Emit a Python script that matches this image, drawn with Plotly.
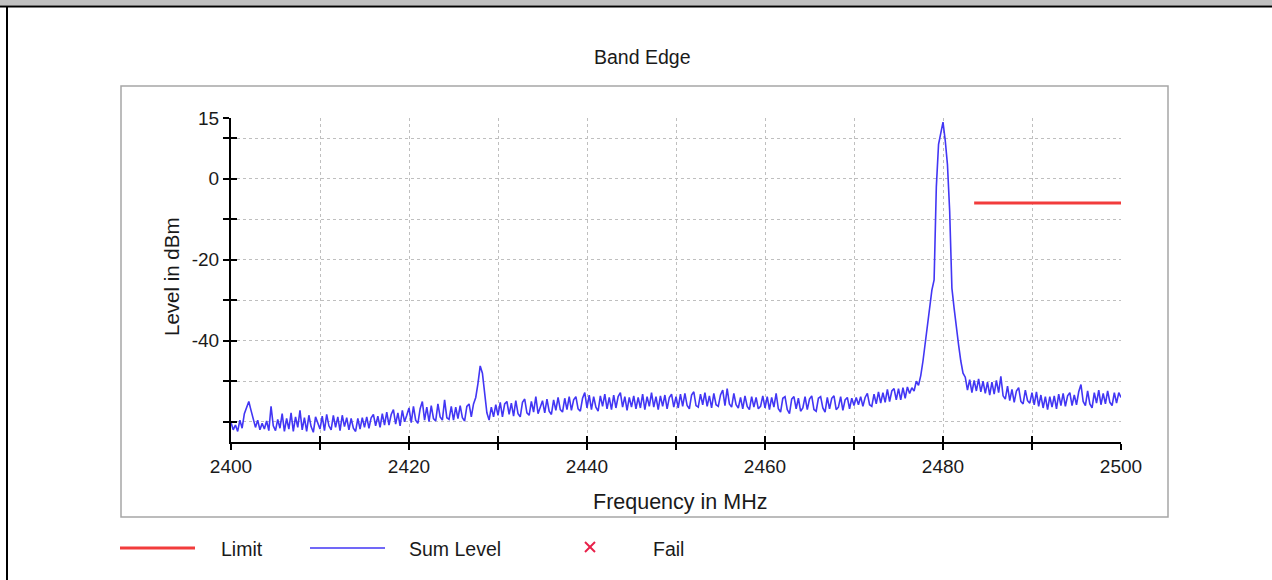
import numpy as np
import plotly.graph_objects as go

# ---------------- data ----------------
title_text = "Band Edge"
x_title = "Frequency in MHz"
y_title = "Level in dBm"

f_start = 2400.0   # MHz, first sweep point
f_step = 0.25      # MHz, sweep step

sum_level = [
    # 2400 - 2405
    -60.2, -62.0, -60.8, -62.4, -59.6, -61.6, -58.0, -56.2, -55.0, -57.2,
    -59.0, -61.4, -59.6, -62.0, -60.4, -61.8, -59.8, -62.2, -56.2, -61.0,
    # 2405 - 2410
    -62.2, -59.4, -61.6, -58.0, -62.4, -59.2, -61.8, -57.8, -62.4, -58.8,
    -61.4, -57.2, -62.0, -59.0, -62.4, -58.4, -61.2, -62.6, -58.8, -60.6,
    # 2410 - 2415
    -61.8, -58.6, -62.2, -58.2, -61.0, -62.0, -58.4, -61.4, -58.8, -62.2,
    -58.4, -61.2, -59.0, -62.0, -59.2, -61.6, -62.4, -59.2, -61.8, -59.0,
    # 2415 - 2420
    -61.4, -58.8, -61.6, -59.0, -58.2, -61.0, -58.6, -61.4, -58.0, -60.8,
    -57.6, -60.8, -58.2, -57.0, -60.6, -57.8, -61.0, -57.2, -60.0, -58.4,
    # 2420 - 2425
    -56.6, -60.2, -56.2, -59.6, -60.4, -56.8, -55.0, -59.6, -56.4, -60.0,
    -56.0, -59.2, -59.8, -55.6, -58.8, -59.6, -54.6, -59.0, -59.4, -56.2,
    # 2425 - 2430
    -59.6, -56.4, -59.2, -56.0, -59.0, -59.8, -56.2, -55.6, -58.8, -55.6,
    -54.0, -50.5, -46.2, -48.0, -52.4, -57.8, -59.6, -56.4, -58.8, -55.8,
    # 2430 - 2435
    -58.4, -55.2, -58.8, -55.6, -55.0, -58.2, -55.4, -58.6, -54.8, -58.0,
    -58.8, -55.2, -54.4, -57.8, -58.4, -55.0, -57.6, -53.8, -58.0, -56.2,
    # 2435 - 2440
    -54.8, -57.8, -54.4, -57.4, -58.2, -54.6, -57.2, -54.0, -57.0, -57.6,
    -54.2, -57.0, -53.8, -57.2, -54.6, -53.8, -56.8, -57.4, -54.2, -52.8,
    # 2440 - 2445
    -56.6, -53.4, -57.0, -53.8, -56.4, -57.4, -53.6, -56.2, -53.2, -56.8,
    -54.0, -57.0, -53.4, -56.6, -53.8, -52.8, -56.4, -53.8, -57.2, -54.0,
    # 2445 - 2450
    -56.4, -53.6, -56.8, -54.0, -56.6, -53.2, -57.0, -53.8, -56.2, -52.8,
    -56.4, -53.8, -57.0, -53.6, -56.2, -53.4, -56.8, -54.0, -53.2, -56.4,
    # 2450 - 2455
    -53.8, -56.6, -53.2, -56.2, -53.0, -56.0, -56.8, -53.4, -52.6, -56.0,
    -56.4, -53.2, -55.8, -52.8, -56.2, -53.6, -56.6, -53.0, -55.8, -56.2,
    # 2455 - 2460
    -53.4, -52.2, -56.0, -51.8, -55.6, -56.4, -53.0, -55.8, -56.6, -54.0,
    -56.8, -53.6, -56.2, -57.0, -53.8, -56.4, -54.0, -56.8, -56.2, -53.6,
    # 2460 - 2465
    -56.6, -53.8, -57.0, -54.0, -56.4, -53.0, -56.8, -57.6, -54.2, -53.8,
    -57.0, -58.0, -54.4, -53.8, -56.8, -54.2, -57.4, -56.6, -53.8, -57.0,
    # 2465 - 2470
    -54.4, -53.6, -57.0, -57.4, -54.2, -53.8, -56.6, -57.6, -54.0, -56.8,
    -54.2, -53.6, -57.0, -56.4, -53.8, -57.2, -54.6, -54.0, -56.8, -54.2,
    # 2470 - 2475
    -56.0, -54.0, -55.8, -53.8, -56.2, -54.0, -53.0, -55.8, -56.2, -53.2,
    -55.6, -52.6, -55.4, -52.8, -55.2, -52.0, -55.0, -52.4, -51.8, -54.6,
    # 2475 - 2480
    -51.8, -54.6, -51.6, -54.2, -51.4, -53.0, -51.6, -52.4, -50.0, -51.0,
    -48.6, -45.0, -40.5, -35.5, -31.5, -27.5, -25.0, -2.0, 8.5, 11.5,
    # 2480 - 2485
    14.0, 9.5, 3.5, -8.0, -27.0, -32.0, -37.0, -41.0, -45.0, -48.0,
    -49.0, -52.2, -49.6, -52.8, -49.8, -52.4, -49.4, -52.6, -50.0, -53.0,
    # 2485 - 2490
    -50.2, -53.4, -50.2, -53.2, -49.8, -52.8, -48.8, -53.6, -54.4, -51.2,
    -54.8, -52.0, -55.2, -52.4, -51.6, -55.0, -55.6, -52.2, -54.8, -55.4,
    # 2490 - 2495
    -52.8, -55.8, -52.6, -56.2, -53.4, -56.6, -53.8, -57.0, -53.8, -56.4,
    -53.6, -56.8, -53.2, -56.0, -53.0, -56.2, -53.6, -52.8, -56.0, -53.4,
    # 2495 - 2500
    -55.8, -52.6, -50.8, -55.0, -56.0, -52.4, -55.6, -56.6, -52.8, -55.4,
    -52.2, -55.8, -53.0, -55.6, -52.4, -55.2, -56.0, -52.8, -55.4, -52.8,
    -54.0,
]

limit_freq = [2483.5, 2500.0]
limit_level = [-6.0, -6.0]

x_tickvals = [2400, 2410, 2420, 2430, 2440, 2450, 2460, 2470, 2480, 2490, 2500]
x_ticktext = ["2400", "", "2420", "", "2440", "", "2460", "", "2480", "", "2500"]
y_tickvals = [15, 10, 0, -10, -20, -30, -40, -50, -60]
y_ticktext = ["15", "", "0", "", "-20", "", "-40", "", ""]

legend_labels = ["Limit", "Sum Level", "Fail"]

x_range = [2400, 2500]
y_range = [-65, 15]

# ---------------- styling ----------------
FONT = "Liberation Sans, Arial, sans-serif"
TXT = "#1a1a1a"
BLUE = "#4236f4"
RED = "#f23c3c"
FAIL = "#e8204a"
GRID = "#bfbfbf"

W, H = 1272, 580
PL, PR, PT, PB = 231, 1121, 118, 442


def px(x):
    return (x - PL) / (PR - PL)


def py(y):
    return (PB - y) / (PB - PT)


freq = f_start + f_step * np.arange(len(sum_level))

fig = go.Figure()
fig.add_trace(go.Scatter(x=freq, y=sum_level, mode="lines",
                         line=dict(color=BLUE, width=1.6),
                         name=legend_labels[1], showlegend=False))
fig.add_trace(go.Scatter(x=limit_freq, y=limit_level, mode="lines",
                         line=dict(color=RED, width=3),
                         name=legend_labels[0], showlegend=False))
# helper trace for the inner half of the crossing tick marks
fig.add_trace(go.Scatter(x=[], y=[], xaxis="x2", yaxis="y2", showlegend=False))

axis_common = dict(showline=True, linecolor="black", linewidth=2,
                   ticks="outside", ticklen=6, tickwidth=1.6, tickcolor="black",
                   showgrid=True, gridcolor=GRID, griddash="dot", gridwidth=1,
                   zeroline=False, tickfont=dict(family=FONT, size=19, color=TXT))

fig.update_layout(
    width=W, height=H, autosize=False,
    margin=dict(l=PL, r=W - PR, t=PT, b=H - PB, pad=0),
    paper_bgcolor="white", plot_bgcolor="white",
    showlegend=False,
    xaxis=dict(range=x_range, tickmode="array", tickvals=x_tickvals,
               ticktext=x_ticktext, **axis_common),
    yaxis=dict(range=y_range, tickmode="array", tickvals=y_tickvals,
               ticktext=y_ticktext, **axis_common),
    xaxis2=dict(range=x_range, overlaying="x", anchor="y", side="bottom",
                tickmode="array", tickvals=x_tickvals, ticks="inside",
                ticklen=6, tickwidth=1.6, tickcolor="black",
                showticklabels=False, showgrid=False, showline=False, zeroline=False),
    yaxis2=dict(range=y_range, overlaying="y", anchor="x", side="left",
                tickmode="array", tickvals=y_tickvals, ticks="inside",
                ticklen=6, tickwidth=1.6, tickcolor="black",
                showticklabels=False, showgrid=False, showline=False, zeroline=False),
)

shapes = []
# page decoration: top grey band, black border lines
shapes.append(dict(type="rect", xref="paper", yref="paper",
                   x0=px(0), x1=px(W), y0=py(0), y1=py(5.5),
                   fillcolor="#c0c0c0", line=dict(width=0)))
shapes.append(dict(type="line", xref="paper", yref="paper",
                   x0=px(0), x1=px(W), y0=py(6.5), y1=py(6.5),
                   line=dict(color="black", width=2)))
shapes.append(dict(type="line", xref="paper", yref="paper",
                   x0=px(7), x1=px(7), y0=py(6), y1=py(H),
                   line=dict(color="black", width=2)))
# chart frame
shapes.append(dict(type="rect", xref="paper", yref="paper", layer="below",
                   x0=px(121), x1=px(1168), y0=py(86), y1=py(517),
                   line=dict(color="#a6a6a6", width=1.5)))
# legend swatches
shapes.append(dict(type="line", xref="paper", yref="paper",
                   x0=px(120), x1=px(195), y0=py(548), y1=py(548),
                   line=dict(color=RED, width=3)))
shapes.append(dict(type="line", xref="paper", yref="paper",
                   x0=px(310), x1=px(385), y0=py(548), y1=py(548),
                   line=dict(color=BLUE, width=1.3)))
shapes.append(dict(type="line", xref="paper", yref="paper",
                   x0=px(585), x1=px(595), y0=py(542), y1=py(552),
                   line=dict(color=FAIL, width=2)))
shapes.append(dict(type="line", xref="paper", yref="paper",
                   x0=px(585), x1=px(595), y0=py(552), y1=py(542),
                   line=dict(color=FAIL, width=2)))
fig.update_layout(shapes=shapes)

ann = []
ann.append(dict(text=title_text, xref="paper", yref="paper", x=px(642), y=py(57),
                xanchor="center", yanchor="middle", showarrow=False,
                font=dict(family=FONT, size=19.5, color=TXT)))
ann.append(dict(text=x_title, xref="paper", yref="paper", x=px(680), y=py(502),
                xanchor="center", yanchor="middle", showarrow=False,
                font=dict(family=FONT, size=21.5, color=TXT)))
ann.append(dict(text=y_title, xref="paper", yref="paper", x=px(171), y=py(277),
                xanchor="center", yanchor="middle", showarrow=False, textangle=-90,
                font=dict(family=FONT, size=20.5, color=TXT)))
for label, x0 in zip(legend_labels, [219, 407, 651]):
    ann.append(dict(text=label, xref="paper", yref="paper", x=px(x0), y=py(549),
                    xanchor="left", yanchor="middle", showarrow=False,
                    font=dict(family=FONT, size=19.5, color=TXT)))
fig.update_layout(annotations=ann)

fig.write_html(
    "out.html",
    config={"displayModeBar": False},
    post_script="document.body.style.margin='0';document.body.style.padding='0';"
                "document.body.style.overflow='hidden';",
)
